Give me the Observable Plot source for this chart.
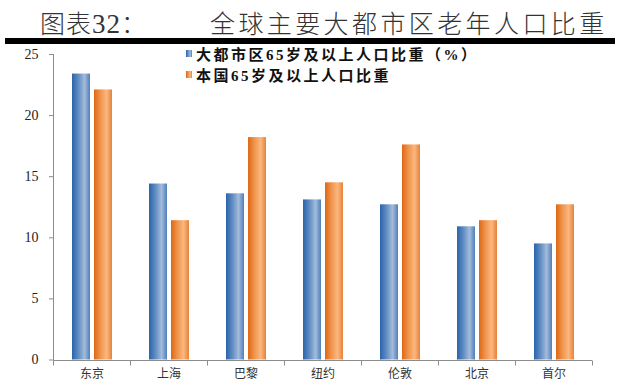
<!DOCTYPE html>
<html>
<head>
<meta charset="utf-8">
<script src="https://cdn.jsdelivr.net/npm/d3@7"></script>
<script src="https://cdn.jsdelivr.net/npm/@observablehq/plot@0.6"></script>
<style>
  html, body { margin: 0; padding: 0; background: #fff; }
  #wrap { position: relative; width: 620px; height: 383px; overflow: hidden; }
  #title { position: absolute; left: 0; top: 0; width: 620px; height: 38px; font-family: "Noto Sans CJK SC", serif; font-weight: 300; color: #333; }
  #t1 { position: absolute; left: 40px; top: 4px; font-size: 25px; letter-spacing: 1px; }
  #t1 .num { font-family: "Liberation Serif", serif; font-size: 27px; }
  #t2 { position: absolute; left: 210px; top: 4px; font-size: 25px; letter-spacing: 3.4px; }
  #rule { position: absolute; left: 5px; top: 38px; width: 610px; height: 6px; background: #000; }
  #chart { position: absolute; left: 0; top: 46px; }
  .leg { position: absolute; font-family: "Liberation Serif", "Noto Sans CJK SC", serif; font-weight: bold; font-size: 15px; letter-spacing: 2.5px; color: #111; white-space: nowrap; }
  .sw { position: absolute; width: 6px; height: 7px; }
</style>
</head>
<body>
<div id="wrap">
  <div id="title"><span id="t1">图表<span class="num">32</span>：</span><span id="t2">全球主要大都市区老年人口比重</span></div>
  <div id="rule"></div>
  <div id="chart"></div>
</div>
<script>
const cities = ["东京", "上海", "巴黎", "纽约", "伦敦", "北京", "首尔"];
const metroShare = [23.4, 14.4, 13.6, 13.1, 12.7, 10.9, 9.5];
const nationalShare = [22.1, 11.4, 18.2, 14.5, 17.6, 11.4, 12.7];
const seriesNames = ["大都市区65岁及以上人口比重（%）", "本国65岁及以上人口比重"];
const yTicks = [0, 5, 10, 15, 20, 25];

const metroData = cities.map((c, i) => ({city: c, value: metroShare[i]}));
const nationalData = cities.map((c, i) => ({city: c, value: nationalShare[i]}));

const gradDefs = () => {
  const svg = d3.create("svg:g");
  const defs = svg.append("defs");
  const g1 = defs.append("linearGradient").attr("id", "gBlue").attr("x1", "0").attr("x2", "1").attr("y1", "0").attr("y2", "0");
  g1.append("stop").attr("offset", "0").attr("stop-color", "#2a64ab");
  g1.append("stop").attr("offset", "0.35").attr("stop-color", "#5f8cc2");
  g1.append("stop").attr("offset", "0.7").attr("stop-color", "#a3bcdb");
  g1.append("stop").attr("offset", "1").attr("stop-color", "#4f7fba");
  const g2 = defs.append("linearGradient").attr("id", "gOrange").attr("x1", "0").attr("x2", "1").attr("y1", "0").attr("y2", "0");
  g2.append("stop").attr("offset", "0").attr("stop-color", "#de6716");
  g2.append("stop").attr("offset", "0.35").attr("stop-color", "#f0944c");
  g2.append("stop").attr("offset", "0.7").attr("stop-color", "#fbb77e");
  g2.append("stop").attr("offset", "1").attr("stop-color", "#e5823a");
  return svg.node();
};

const axisLines = (index, scales, values, dimensions) => {
  const x = scales.x, y = scales.y;
  const g = d3.create("svg:g").attr("stroke", "#8c8c8c").attr("stroke-width", 1).attr("fill", "none");
  const bw = x.bandwidth ? x.bandwidth() : 0;
  const y0 = Math.round(y(0)) + 0.5;
  const left = Math.round(x(cities[0])) + 0.5;
  const right = x(cities[cities.length - 1]) + bw;
  g.append("line").attr("x1", left).attr("x2", left).attr("y1", y(yTicks[yTicks.length - 1])).attr("y2", y0);
  g.append("line").attr("x1", left).attr("x2", right).attr("y1", y0).attr("y2", y0);
  const edges = cities.map(c => x(c)).concat([right]);
  for (const e of edges) {
    const ex = Math.round(e) + 0.5;
    g.append("line").attr("x1", ex).attr("x2", ex).attr("y1", y0).attr("y2", y0 + 5);
  }
  return g.node();
};

const chart = Plot.plot({
  width: 620,
  height: 337,
  marginTop: 8,
  marginBottom: 23.5,
  marginLeft: 53,
  marginRight: 28,
  style: {background: "transparent"},
  x: {domain: cities, padding: 0, label: null},
  y: {domain: [0, 25], ticks: yTicks, label: null},
  marks: [
    gradDefs,
    Plot.barY(metroData, {x: "city", y: "value", fill: "url(#gBlue)", insetLeft: 19, insetRight: 40}),
    Plot.barY(nationalData, {x: "city", y: "value", fill: "url(#gOrange)", insetLeft: 41, insetRight: 18}),
    axisLines,
    Plot.axisY({ticks: yTicks, tickSize: 4, tickPadding: 11, stroke: "#8c8c8c", fill: "#222",
      fontSize: 14, fontFamily: "Liberation Serif, serif", label: null}),
    Plot.axisX({tickSize: 0, tickPadding: 9, fill: "#333", fontSize: 12,
      fontFamily: "Noto Sans CJK SC, sans-serif", label: null})
  ]
});
chart.style.fontFamily = "Liberation Serif, serif";
document.getElementById("chart").appendChild(chart);

const wrap = document.getElementById("wrap");
const legendColors = ["linear-gradient(90deg,#2a64ab,#a3bcdb 70%,#4f7fba)", "linear-gradient(90deg,#de6716,#fbb77e 70%,#e5823a)"];
seriesNames.forEach((name, i) => {
  const sw = document.createElement("div");
  sw.className = "sw";
  sw.style.left = "186px";
  sw.style.top = (50 + i * 21) + "px";
  sw.style.background = legendColors[i];
  wrap.appendChild(sw);
  const t = document.createElement("div");
  t.className = "leg";
  t.style.left = "196px";
  t.style.top = (43 + i * 21) + "px";
  t.textContent = name;
  wrap.appendChild(t);
});
</script>
</body>
</html>
